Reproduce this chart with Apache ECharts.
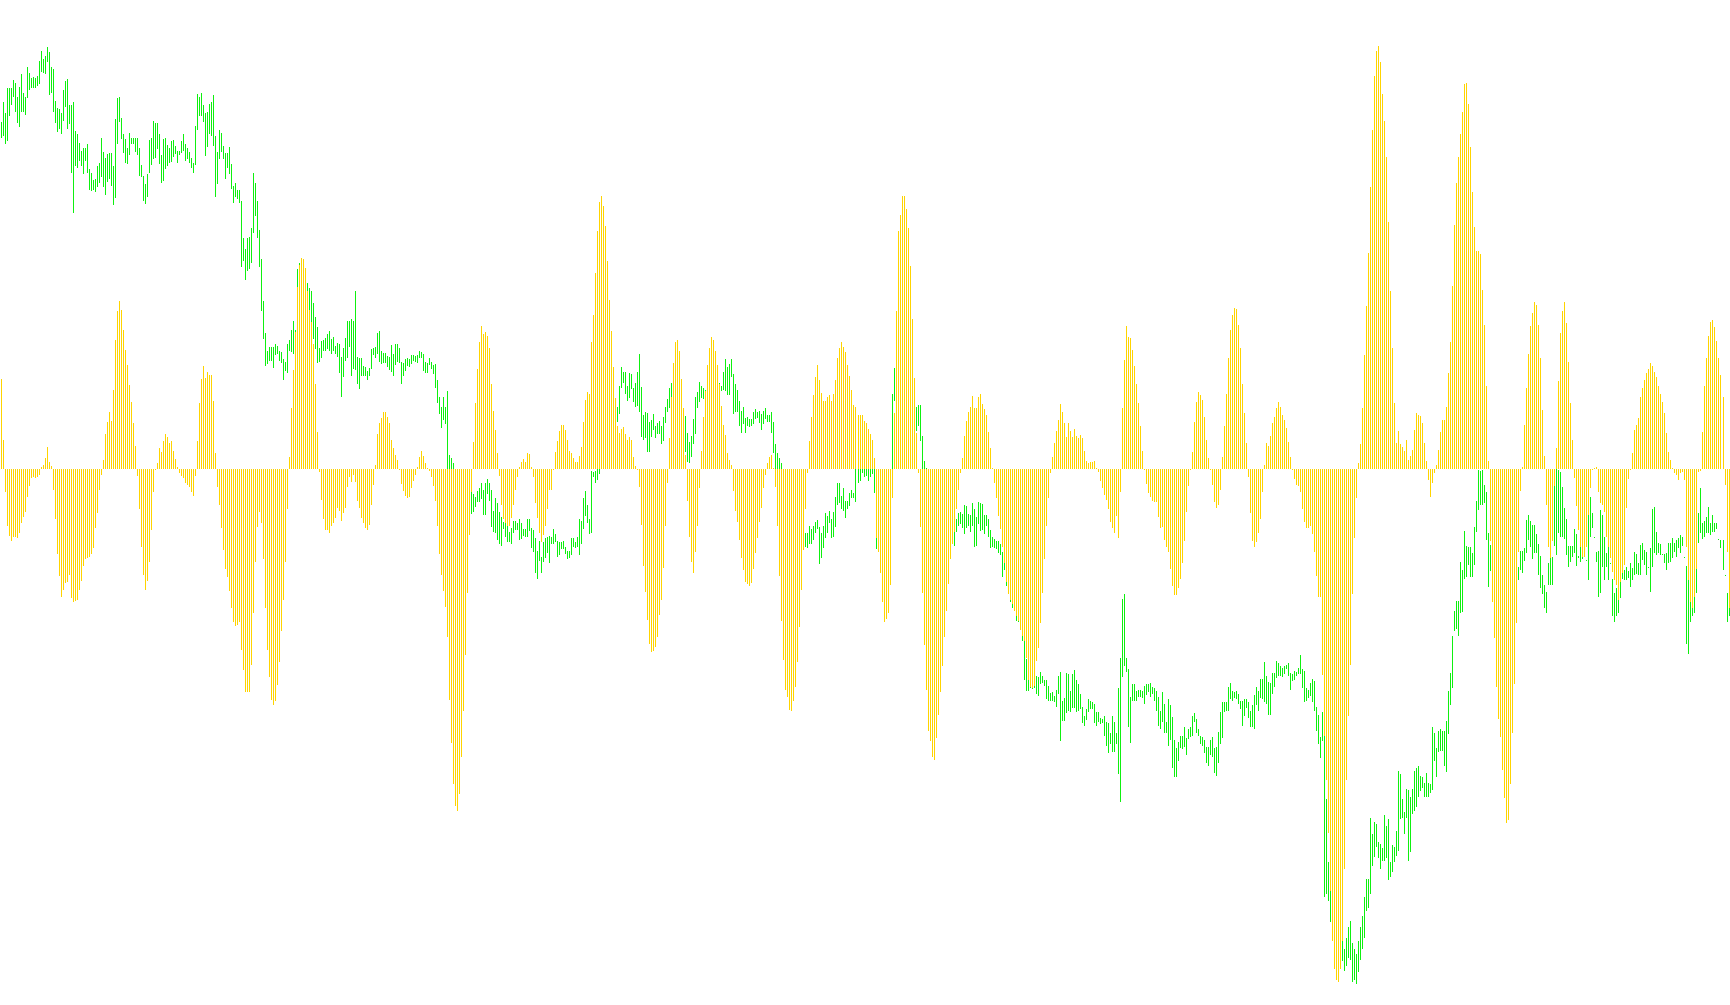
<!DOCTYPE html>
<html><head><meta charset="utf-8">
<script src="https://cdn.jsdelivr.net/npm/echarts@6/dist/echarts.min.js"></script>
<style>html,body{margin:0;padding:0;background:#fff;overflow:hidden}#c{width:1730px;height:1005px}</style>
</head><body><div id="c"></div>
<script>
// price bar highs (arbitrary price units)
const highs = [
1590,1625,1605,1650,1650,1650,1665,1660,1635,1652,1675,1642,1635,1688,1678,1668,1670,1668,1672,1700,
1717,1703,1708,1725,1715,1688,1685,1627,1615,1613,1605,1647,1663,1667,1620,1620,1625,1573,1567,1552,
1537,1542,1542,1550,1505,1497,1485,1487,1510,1515,1560,1535,1525,1532,1533,1533,1510,1595,1632,1635,
1597,1568,1558,1542,1570,1560,1560,1560,1560,1542,1512,1492,1477,1495,1557,1560,1592,1587,1587,1568,
1530,1558,1560,1548,1542,1555,1557,1547,1537,1537,1555,1568,1550,1542,1535,1525,1515,1582,1640,1635,
1642,1620,1605,1607,1622,1625,1638,1565,1535,1575,1570,1547,
1533,1533,1545,1513,1475,1480,1467,1467,1448,1380,1360,1380,1383,1398,1497,1480,1448,1395,1342,1267,
1210,1178,1185,1185,1185,1190,1187,1178,1175,1163,1158,1190,1197,1215,1232,1215,1325,1335,1330,1320,
1310,1300,1290,1285,1263,1238,1220,1183,1195,1197,1200,1207,1213,1198,1203,1187,1192,1190,1167,1182,
1200,1232,1232,1235,1232,1285,1167,1165,1165,1150,1148,1142,1147,1180,1182,1185,1210,1213,1177,1173,
1173,1168,1167,1188,1172,1190,1190,1183,1157,1155,1162,1165,1163,1170,1170,1168,1170,1178,1175,1172,
1157,1155,1165,1157,1152,1153,1125,1095,1077,1095,1077,1105,
990,985,975,965,960,955,950,945,940,935,930,925,920,915,925,930,940,927,940,947,
940,927,889,913,903,887,878,870,868,862,852,858,872,872,868,875,868,857,857,875,
875,858,855,840,817,835,807,833,840,843,845,842,857,847,835,833,833,835,825,818,
818,840,840,833,842,875,872,913,925,900,875,962,960,962,975,990,1000,1010,1020,1030,
1040,1050,1055,1065,1077,1115,1148,1140,1140,1115,1137,1135,1110,1120,1140,1172,1113,1062,1067,1065,
1050,1053,1063,1042,1047,1052,1043,1058,1077,1090,1110,1120,
1115,1110,1100,1090,1080,1070,1060,1030,1013,1025,1055,1095,1103,1122,1115,1110,1107,1110,1115,1120,
1118,1125,1120,1120,1115,1140,1162,1148,1153,1162,1135,1117,1107,1087,1070,1077,1057,1058,1055,1055,
1067,1072,1067,1070,1063,1070,1075,1062,1062,1067,1050,1010,993,985,975,965,955,945,940,930,
925,920,915,910,905,895,850,850,862,857,862,870,873,860,850,862,885,880,890,875,
887,915,940,940,917,930,908,907,922,927,922,990,985,990,1000,990,985,990,985,985,
985,905,900,895,890,885,880,885,900,1100,1147,1150,
1150,1145,1140,1135,1130,1125,1120,1115,1110,1077,1080,1080,1025,980,967,950,945,935,925,915,
905,895,890,885,880,875,870,865,862,875,885,887,883,900,898,883,882,903,893,878,
905,903,902,882,882,875,855,843,838,835,835,830,815,800,775,760,735,728,725,715,
712,710,690,662,622,607,605,605,595,592,590,600,592,585,585,575,562,563,557,567,
592,600,547,552,597,595,565,595,603,585,577,560,537,520,533,550,547,545,542,527,
527,517,515,520,510,507,490,520,510,490,570,625,
730,740,625,605,555,577,577,565,567,567,565,575,577,577,580,573,570,565,555,530,
563,542,510,550,540,518,477,462,473,485,485,500,480,497,500,520,525,515,497,485,
483,477,465,465,477,482,463,465,492,527,545,545,545,572,580,565,563,565,560,547,
547,550,550,545,530,540,558,572,565,587,587,618,593,582,580,597,597,620,615,610,
607,610,612,615,598,595,602,600,607,630,605,602,570,567,580,587,583,537,522,483,
527,530,370,258,230,200,170,151,160,162,130,101,
120,140,151,112,100,92,115,140,160,195,227,227,337,308,330,325,293,290,283,342,
322,335,258,288,285,313,422,415,370,347,388,387,375,388,422,427,430,413,410,400,
417,400,398,500,490,463,493,497,493,493,512,565,597,665,710,727,728,
798,783,853,827,825,825,814,861,907,963,962,963,936,924,849,828,
820,810,800,795,790,785,790,795,800,805,810,812,815,
789,817,817,822,873,882,871,864,864,847,830,808,774,756,744,795,825,807,939,976,
963,960,933,895,874,826,826,
826,856,848,808,841,841,849,801,885,915,885,843,816,818,891,882,843,813,842,
795,767,742,750,784,783,782,783,789,782,795,786,816,812,795,828,831,819,815,789,
822,892,897,852,831,829,812,812,814,831,832,840,831,837,840,846,843,807,790,780,
775,770,771,864,885,930,867,872,879,897,867,882,868,867,838,837,837,774,741,745
];
// price bar lows
const lows = [
1560,1565,1550,1555,1600,1620,1635,1607,1587,1580,1607,1607,1602,1632,1647,1650,1650,1650,1655,1657,
1680,1677,1675,1697,1638,1642,1607,1587,1572,1577,1568,1592,1617,1577,1585,1497,1425,1510,1507,1520,
1510,1495,1520,1497,1467,1465,1467,1463,1472,1480,1490,1472,1458,1482,1487,1475,1440,1452,1550,1590,
1558,1533,1515,1513,1530,1550,1550,1535,1530,1493,1490,1447,1442,1455,1497,1512,1523,1525,1540,1513,
1480,1483,1505,1510,1515,1518,1527,1532,1515,1530,1533,1537,1520,1522,1515,1507,1497,1512,1575,1600,
1600,1590,1528,1545,1568,1565,1547,1455,1477,1523,1535,1523,
1487,1507,1495,1468,1443,1455,1450,1443,1328,1340,1305,1322,1325,1335,1390,1420,1380,1328,1250,1198,
1150,1153,1160,1160,1147,1170,1172,1160,1155,1125,1142,1138,1177,1175,1172,1200,1290,1290,1280,1260,
1250,1245,1235,1215,1198,1180,1155,1158,1165,1177,1177,1180,1177,1172,1177,1171,1167,1138,1095,1130,
1160,1165,1185,1132,1145,1143,1118,1108,1132,1133,1133,1125,1133,1145,1170,1165,1172,1157,1153,1155,
1155,1148,1143,1140,1133,1152,1157,1155,1118,1133,1142,1150,1148,1153,1160,1157,1155,1165,1165,1142,
1138,1138,1152,1145,1135,1110,1083,1063,1038,1053,1045,965,
965,955,945,935,925,920,915,910,905,900,895,883,887,897,905,905,910,882,882,920,
908,860,852,850,837,830,827,857,843,833,833,830,850,855,855,837,838,845,843,843,
853,823,815,778,767,800,777,797,805,813,795,830,830,833,807,810,820,820,812,803,
805,810,825,823,825,810,830,857,880,867,847,850,950,940,945,955,965,975,985,995,
1005,1015,1025,1035,1050,1063,1110,1120,1100,1087,1093,1108,1085,1077,1078,1068,1022,1017,1020,995,
995,1022,1035,1020,1028,1028,1010,1015,1047,1067,1075,1090,
1085,1075,1065,1055,1040,1030,995,977,975,987,1010,1027,1075,1085,1093,1090,1087,1080,1085,1090,
1095,1100,1098,1103,1105,1107,1105,1098,1098,1130,1063,1067,1067,1043,1030,1045,1030,1043,1040,1043,
1045,1055,1057,1047,1035,1045,1055,1050,1050,1030,993,965,965,950,940,930,920,910,900,895,
890,885,880,875,870,862,825,823,830,830,837,850,857,793,805,823,840,850,867,840,
843,860,900,903,893,890,877,893,898,912,912,905,940,943,958,950,952,943,950,955,
922,820,830,825,820,815,810,820,840,965,1087,1100,
1110,1105,1100,1095,1090,1085,1080,1075,1070,1033,1043,1015,965,960,955,920,910,900,890,880,
870,860,855,850,845,840,835,830,827,852,862,865,858,848,858,862,852,862,825,827,
865,853,855,848,862,843,822,825,823,820,813,810,770,783,755,752,725,715,710,692,
690,675,655,585,565,565,570,568,570,560,557,577,580,575,550,548,547,547,545,537,
560,475,512,512,525,530,527,535,535,527,530,533,507,502,513,527,533,533,507,502,
510,505,507,485,467,453,470,455,455,470,415,365,
590,610,600,500,472,547,547,547,555,555,552,542,558,563,555,560,547,530,503,497,
510,490,490,467,477,427,410,410,440,463,460,465,450,478,483,485,510,490,485,470,
467,453,435,430,450,447,418,413,435,470,480,527,530,530,550,547,552,550,542,533,
503,520,535,517,500,500,497,540,530,552,550,545,542,522,522,560,573,588,593,592,
590,595,605,592,567,583,585,593,595,595,570,545,547,552,557,545,530,493,470,445,
475,195,200,187,150,120,95,72,90,101,80,61,
70,85,81,41,45,38,60,81,100,121,170,175,200,250,267,285,265,245,260,260,
265,225,230,240,258,268,278,335,337,308,337,260,275,343,350,357,375,385,390,375,
375,375,382,387,440,410,455,458,458,430,420,487,540,570,673,677,665,
705,707,767,771,792,771,771,792,852,891,900,900,903,837,753,782,
770,760,750,745,735,730,735,745,750,755,760,765,765,
765,783,777,799,813,837,825,802,813,813,774,750,740,715,705,756,756,756,826,810,
849,843,843,838,810,789,798,
807,813,790,804,798,802,810,840,765,843,858,843,798,735,741,789,765,789,765,804,
700,690,700,705,732,766,765,765,768,753,765,774,775,774,774,801,792,774,789,744,
789,813,810,813,810,810,795,783,796,798,804,816,807,822,813,826,822,650,632,690,
700,705,741,831,850,838,843,849,849,846,852,852,856,855,822,783,807,690,700,710
];
// oscillator histogram values
const hist = [
162,53,-42,-102,-120,-130,-122,-122,-125,-115,-98,-87,-77,-50,-30,-16,-15,-16,-15,-10,
4,7,20,40,12,6,-37,-90,-153,-193,-230,-217,-205,-203,-190,-232,-240,-237,-235,-217,
-202,-175,-162,-160,-158,-153,-142,-107,-80,-37,-10,17,63,85,102,87,143,232,285,302,
287,250,215,187,152,120,82,42,-12,-72,-140,-190,-217,-202,-167,-110,-42,0,10,37,
30,50,63,57,47,50,32,18,3,-7,-13,-16,-25,-28,-32,-42,-48,-12,50,118,
162,186,163,174,170,170,123,28,-33,-65,-107,-145,
-180,-195,-220,-250,-275,-282,-280,-275,-325,-362,-402,-402,-402,-353,-260,-168,-105,-77,-98,-162,
-250,-325,-375,-415,-425,-418,-388,-347,-292,-235,-168,-72,22,110,178,247,328,368,380,378,
362,320,287,265,225,153,67,-5,-55,-90,-110,-110,-115,-103,-98,-88,-70,-75,-93,-80,
-70,-32,-15,-23,-10,-23,-58,-70,-88,-98,-107,-110,-100,-65,-28,7,63,82,92,102,
102,93,82,52,38,25,17,0,-27,-40,-48,-52,-50,-35,-22,-10,3,22,33,23,
10,2,-3,-15,-30,-58,-102,-153,-190,-220,-248,-303,
-415,-493,-567,-607,-615,-585,-518,-435,-335,-223,-118,-42,48,118,180,228,258,243,247,240,
218,153,105,70,28,-13,-65,-90,-98,-103,-103,-88,-65,-38,-15,3,13,18,13,28,
27,3,-15,-62,-88,-115,-132,-118,-102,-72,-37,-37,-2,30,50,68,80,80,70,52,
33,28,20,13,13,23,40,85,125,138,135,228,278,353,428,480,492,473,438,375,
305,248,183,128,77,65,72,75,63,52,58,52,22,5,0,-32,-100,-175,-222,-272,
-315,-330,-328,-320,-303,-262,-235,-178,-102,-25,55,130,
190,228,233,212,162,110,25,-58,-122,-167,-187,-150,-103,-35,33,93,140,187,217,238,
232,212,187,153,113,80,62,28,17,7,-40,-75,-95,-127,-160,-182,-203,-207,-210,-205,
-180,-152,-125,-95,-70,-35,-10,10,22,25,2,-33,-103,-192,-273,-343,-398,-410,-433,-435,
-418,-393,-347,-285,-218,-145,-72,-7,50,93,133,165,187,160,137,122,123,130,133,122,
135,160,200,218,228,220,210,188,168,143,115,112,98,98,98,87,83,72,63,53,
20,-125,-150,-188,-240,-275,-270,-260,-208,-53,100,285,
428,458,492,492,468,433,365,270,163,65,-7,-105,-223,-317,-398,-472,-490,-518,-523,-485,
-443,-402,-355,-303,-255,-207,-162,-135,-113,-72,-38,-7,20,60,87,102,112,132,109,110,
130,135,117,108,98,67,37,2,-25,-53,-85,-108,-140,-170,-203,-225,-235,-243,-255,-265,
-273,-290,-300,-310,-340,-380,-393,-395,-390,-345,-322,-278,-223,-162,-103,-52,-8,22,47,68,
88,117,102,82,58,82,68,58,72,60,55,62,55,33,15,10,12,13,15,2,
-5,-22,-35,-47,-55,-72,-95,-107,-115,-85,-125,-42,
110,197,257,237,235,215,185,153,118,77,33,0,-27,-43,-50,-57,-60,-60,-87,-107,
-105,-128,-140,-150,-180,-210,-227,-227,-215,-198,-170,-130,-78,-30,-2,30,85,120,138,133,
125,93,53,20,-2,-28,-60,-70,-65,-38,22,78,135,200,250,278,290,288,260,217,
153,100,47,-15,-80,-130,-140,-132,-115,-90,-42,8,47,42,60,82,93,110,120,112,
98,88,73,48,22,0,-18,-28,-30,-42,-72,-95,-107,-107,-102,-117,-150,-192,-230,-230,
-370,-480,-560,-655,-760,-850,-900,-920,-923,-900,-850,-720,
-560,-445,-353,-225,-125,-52,10,45,110,205,293,388,507,610,707,752,762,732,675,627,
562,445,320,218,118,47,68,45,40,33,52,17,23,35,70,100,97,95,83,47,
15,-20,-50,-25,-8,7,35,67,88,88,112,172,228,330,440,515,562,
603,643,693,695,657,580,498,435,393,393,387,323,260,150,14,-130,
-240,-305,-393,-450,-482,-542,-593,-637,-632,-567,-475,-387,-278,
-150,-40,4,79,145,207,258,280,300,295,260,200,106,23,-65,-140,-161,-130,-30,37,
158,245,285,300,263,193,118,
52,-17,-67,-109,-140,-158,-158,-140,-82,-35,0,2,4,-41,-62,-65,-77,-122,-140,-160,
-185,-200,-209,-235,-203,-188,-173,-71,-18,0,28,71,79,91,130,145,160,172,180,190,
185,175,165,150,135,120,100,64,31,16,1,-8,-11,-19,-8,-5,-19,-140,-200,-240,
-250,-230,-180,-5,-3,67,150,200,240,265,268,255,230,200,170,130,-29,-150,-250,-280
];

const PRICE_AXIS = { min: 0, max: 1809 };
const HIST_AXIS = { min: -964.8, max: 844.2 };
const GREEN = '#0ff00f';
const GOLD = '#ffd400';

const categories = highs.map((_, i) => String(i));
const col = x => Math.floor(x + 0.01);

const chart = echarts.init(document.getElementById('c'), null, { renderer: 'canvas' });
chart.setOption({
  animation: false,
  backgroundColor: '#ffffff',
  grid: { left: 0, right: 0, top: 0, bottom: 0 },
  xAxis: { type: 'category', data: categories, show: false },
  yAxis: [
    { type: 'value', min: PRICE_AXIS.min, max: PRICE_AXIS.max, show: false, splitLine: { show: false } },
    { type: 'value', min: HIST_AXIS.min, max: HIST_AXIS.max, show: false, splitLine: { show: false } }
  ],
  series: [
    {
      name: 'price', type: 'custom', yAxisIndex: 0, clip: true,
      data: highs.map((h, i) => [i, h, lows[i]]),
      renderItem: (params, api) => {
        const top = api.coord([api.value(0), api.value(1)]);
        const bot = api.coord([api.value(0), api.value(2)]);
        const x = col(top[0]);
        const y1 = Math.round(top[1]);
        const y2 = Math.round(bot[1]);
        return { type: 'rect', shape: { x: x, y: y1, width: 1, height: Math.max(y2 - y1, 1) },
                 style: { fill: GREEN } };
      }
    },
    {
      name: 'oscillator', type: 'custom', yAxisIndex: 1, clip: true,
      data: hist.map((v, i) => [i, v]),
      renderItem: (params, api) => {
        const p = api.coord([api.value(0), api.value(1)]);
        const z = api.coord([api.value(0), 0]);
        const y1 = Math.round(Math.min(p[1], z[1]));
        const y2 = Math.round(Math.max(p[1], z[1]));
        return { type: 'rect', shape: { x: col(p[0]), y: y1, width: 1, height: Math.max(y2 - y1, 1) },
                 style: { fill: GOLD } };
      }
    }
  ]
});
</script>
</body></html>
